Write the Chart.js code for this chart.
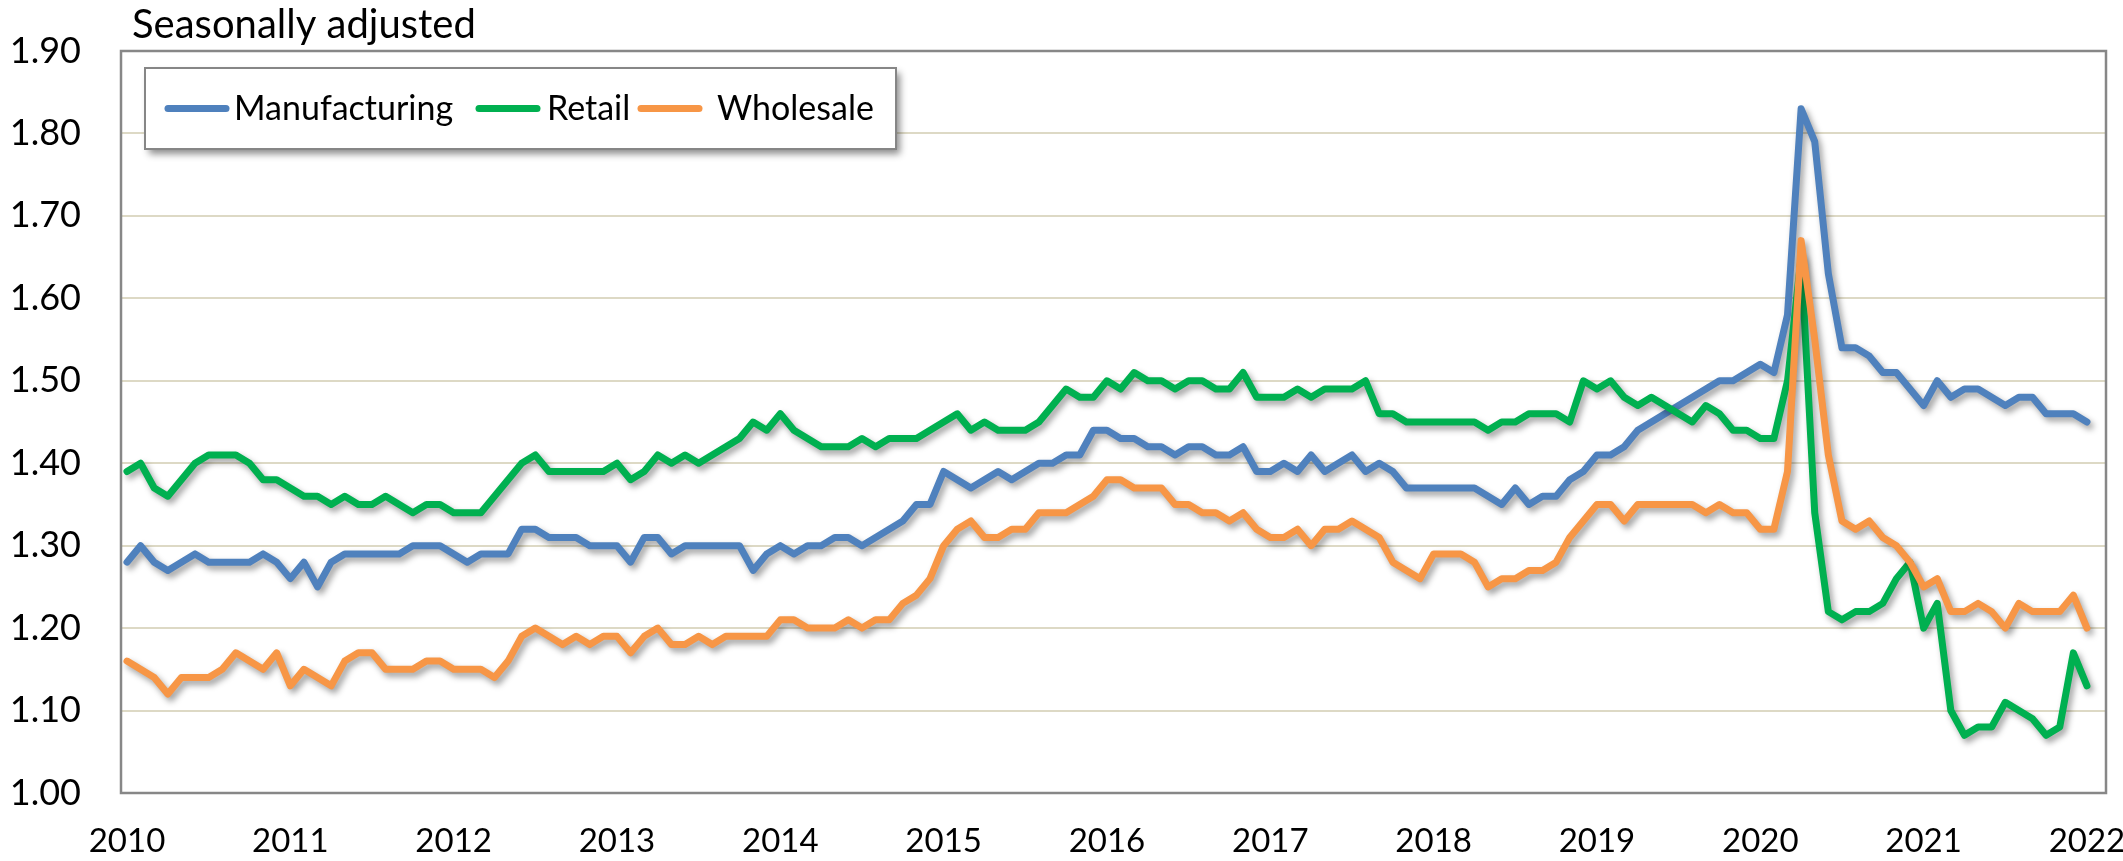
<!DOCTYPE html>
<html>
<head>
<meta charset="utf-8">
<title>Seasonally adjusted</title>
<script src="https://cdn.jsdelivr.net/npm/chart.js@4.4.1/dist/chart.umd.min.js"></script>
<style>
    html, body { margin: 0; padding: 0; background: #fff; }
    #chart { display: block; }
</style>
</head>
<body>
<canvas id="chart" width="2123" height="861"></canvas>
<script>
const chartTitle = "Seasonally adjusted";
const yearLabels = ["2010", "2011", "2012", "2013", "2014", "2015", "2016", "2017", "2018", "2019", "2020", "2021", "2022"];
const seriesNames = ["Manufacturing", "Retail", "Wholesale"];
const seriesColors = ["#4F81BD", "#00B050", "#F79646"];

// monthly values, Jan 2010 .. Jan 2022
const manufacturing = [
    1.28, 1.30, 1.28, 1.27, 1.28, 1.29, 1.28, 1.28, 1.28, 1.28, 1.29, 1.28,
    1.26, 1.28, 1.25, 1.28, 1.29, 1.29, 1.29, 1.29, 1.29, 1.30, 1.30, 1.30,
    1.29, 1.28, 1.29, 1.29, 1.29, 1.32, 1.32, 1.31, 1.31, 1.31, 1.30, 1.30,
    1.30, 1.28, 1.31, 1.31, 1.29, 1.30, 1.30, 1.30, 1.30, 1.30, 1.27, 1.29,
    1.30, 1.29, 1.30, 1.30, 1.31, 1.31, 1.30, 1.31, 1.32, 1.33, 1.35, 1.35,
    1.39, 1.38, 1.37, 1.38, 1.39, 1.38, 1.39, 1.40, 1.40, 1.41, 1.41, 1.44,
    1.44, 1.43, 1.43, 1.42, 1.42, 1.41, 1.42, 1.42, 1.41, 1.41, 1.42, 1.39,
    1.39, 1.40, 1.39, 1.41, 1.39, 1.40, 1.41, 1.39, 1.40, 1.39, 1.37, 1.37,
    1.37, 1.37, 1.37, 1.37, 1.36, 1.35, 1.37, 1.35, 1.36, 1.36, 1.38, 1.39,
    1.41, 1.41, 1.42, 1.44, 1.45, 1.46, 1.47, 1.48, 1.49, 1.50, 1.50, 1.51,
    1.52, 1.51, 1.58, 1.83, 1.79, 1.63, 1.54, 1.54, 1.53, 1.51, 1.51, 1.49,
    1.47, 1.50, 1.48, 1.49, 1.49, 1.48, 1.47, 1.48, 1.48, 1.46, 1.46, 1.46,
    1.45,
];
const retail = [
    1.39, 1.40, 1.37, 1.36, 1.38, 1.40, 1.41, 1.41, 1.41, 1.40, 1.38, 1.38,
    1.37, 1.36, 1.36, 1.35, 1.36, 1.35, 1.35, 1.36, 1.35, 1.34, 1.35, 1.35,
    1.34, 1.34, 1.34, 1.36, 1.38, 1.40, 1.41, 1.39, 1.39, 1.39, 1.39, 1.39,
    1.40, 1.38, 1.39, 1.41, 1.40, 1.41, 1.40, 1.41, 1.42, 1.43, 1.45, 1.44,
    1.46, 1.44, 1.43, 1.42, 1.42, 1.42, 1.43, 1.42, 1.43, 1.43, 1.43, 1.44,
    1.45, 1.46, 1.44, 1.45, 1.44, 1.44, 1.44, 1.45, 1.47, 1.49, 1.48, 1.48,
    1.50, 1.49, 1.51, 1.50, 1.50, 1.49, 1.50, 1.50, 1.49, 1.49, 1.51, 1.48,
    1.48, 1.48, 1.49, 1.48, 1.49, 1.49, 1.49, 1.50, 1.46, 1.46, 1.45, 1.45,
    1.45, 1.45, 1.45, 1.45, 1.44, 1.45, 1.45, 1.46, 1.46, 1.46, 1.45, 1.50,
    1.49, 1.50, 1.48, 1.47, 1.48, 1.47, 1.46, 1.45, 1.47, 1.46, 1.44, 1.44,
    1.43, 1.43, 1.50, 1.65, 1.34, 1.22, 1.21, 1.22, 1.22, 1.23, 1.26, 1.28,
    1.20, 1.23, 1.10, 1.07, 1.08, 1.08, 1.11, 1.10, 1.09, 1.07, 1.08, 1.17,
    1.13,
];
const wholesale = [
    1.16, 1.15, 1.14, 1.12, 1.14, 1.14, 1.14, 1.15, 1.17, 1.16, 1.15, 1.17,
    1.13, 1.15, 1.14, 1.13, 1.16, 1.17, 1.17, 1.15, 1.15, 1.15, 1.16, 1.16,
    1.15, 1.15, 1.15, 1.14, 1.16, 1.19, 1.20, 1.19, 1.18, 1.19, 1.18, 1.19,
    1.19, 1.17, 1.19, 1.20, 1.18, 1.18, 1.19, 1.18, 1.19, 1.19, 1.19, 1.19,
    1.21, 1.21, 1.20, 1.20, 1.20, 1.21, 1.20, 1.21, 1.21, 1.23, 1.24, 1.26,
    1.30, 1.32, 1.33, 1.31, 1.31, 1.32, 1.32, 1.34, 1.34, 1.34, 1.35, 1.36,
    1.38, 1.38, 1.37, 1.37, 1.37, 1.35, 1.35, 1.34, 1.34, 1.33, 1.34, 1.32,
    1.31, 1.31, 1.32, 1.30, 1.32, 1.32, 1.33, 1.32, 1.31, 1.28, 1.27, 1.26,
    1.29, 1.29, 1.29, 1.28, 1.25, 1.26, 1.26, 1.27, 1.27, 1.28, 1.31, 1.33,
    1.35, 1.35, 1.33, 1.35, 1.35, 1.35, 1.35, 1.35, 1.34, 1.35, 1.34, 1.34,
    1.32, 1.32, 1.39, 1.67, 1.55, 1.41, 1.33, 1.32, 1.33, 1.31, 1.30, 1.28,
    1.25, 1.26, 1.22, 1.22, 1.23, 1.22, 1.20, 1.23, 1.22, 1.22, 1.22, 1.24,
    1.20,
];

const seriesValues = [manufacturing, retail, wholesale];
const fontFamily = "Lato, 'Open Sans', sans-serif";

// Excel-like soft drop shadow under each line
const lineShadow = {
    id: "lineShadow",
    beforeDatasetDraw(chart) {
        const ctx = chart.ctx;
        ctx.save();
        ctx.shadowColor = "rgba(0, 0, 0, 0.38)";
        ctx.shadowBlur = 6;
        ctx.shadowOffsetX = 3;
        ctx.shadowOffsetY = 4;
    },
    afterDatasetDraw(chart) {
        chart.ctx.restore();
    },
};

// grey box round the plot area
const plotFrame = {
    id: "plotFrame",
    beforeDatasetsDraw(chart) {
        const { ctx, chartArea: a } = chart;
        ctx.save();
        ctx.strokeStyle = "#878787";
        ctx.lineWidth = 2.5;
        ctx.strokeRect(a.left, a.top, a.right - a.left, a.bottom - a.top);
        ctx.restore();
    },
};

// title text and the boxed legend inside the plot
const boxedLegend = {
    id: "boxedLegend",
    afterDraw(chart) {
        const ctx = chart.ctx;
        ctx.save();
        ctx.fillStyle = "#000";
        ctx.font = `40px ${fontFamily}`;
        ctx.textBaseline = "alphabetic";
        ctx.textAlign = "left";
        ctx.fillText(chartTitle, 132, 38);

        const box = { x: 145, y: 68, w: 751, h: 81 };
        ctx.shadowColor = "rgba(0, 0, 0, 0.45)";
        ctx.shadowBlur = 7;
        ctx.shadowOffsetX = 4;
        ctx.shadowOffsetY = 5;
        ctx.fillStyle = "#fff";
        ctx.fillRect(box.x, box.y, box.w, box.h);
        ctx.shadowColor = "transparent";
        ctx.strokeStyle = "#868686";
        ctx.lineWidth = 2;
        ctx.strokeRect(box.x, box.y, box.w, box.h);

        const sampleX = [168, 479, 641];
        const textX = [234, 547, 717];
        const midY = box.y + box.h / 2;
        ctx.font = `34px ${fontFamily}`;
        ctx.textBaseline = "middle";
        chart.data.datasets.forEach((ds, i) => {
            ctx.strokeStyle = ds.borderColor;
            ctx.lineWidth = 7;
            ctx.lineCap = "round";
            ctx.beginPath();
            ctx.moveTo(sampleX[i], midY);
            ctx.lineTo(sampleX[i] + 58, midY);
            ctx.stroke();
            ctx.fillStyle = "#000";
            ctx.fillText(ds.label, textX[i], midY + 1);
        });
        ctx.restore();
    },
};

const datasets = seriesNames.map((name, i) => ({
    label: name,
    data: seriesValues[i].map((v, m) => ({ x: m, y: v })),
    borderColor: seriesColors[i],
    backgroundColor: seriesColors[i],
    borderWidth: 7,
    borderJoinStyle: "round",
    borderCapStyle: "round",
    pointRadius: 0,
    tension: 0,
    order: seriesNames.length - i,
}));

new Chart(document.getElementById("chart"), {
    type: "line",
    data: { datasets: datasets },
    plugins: [lineShadow, plotFrame, boxedLegend],
    options: {
        responsive: false,
        animation: false,
        devicePixelRatio: 1,
        layout: {
            padding: { top: 51, right: 17, left: 0, bottom: 0 },
        },
        scales: {
            x: {
                type: "linear",
                min: -0.44,
                max: 145.4,
                grid: { display: false, drawTicks: false },
                border: { display: false },
                afterBuildTicks: (scale) => {
                    scale.ticks = yearLabels.map((_, i) => ({ value: i * 12 }));
                },
                afterFit: (scale) => {
                    scale.height = 68;
                    scale.paddingLeft = 0;
                    scale.paddingRight = 0;
                },
                ticks: {
                    autoSkip: false,
                    maxRotation: 0,
                    padding: 29,
                    color: "#000",
                    font: { family: fontFamily, size: 33 },
                    callback: (value, index) => yearLabels[index],
                },
            },
            y: {
                min: 1.0,
                max: 1.9,
                grid: { color: "#DDD9C5", lineWidth: 2, drawTicks: false },
                border: { display: false },
                afterFit: (scale) => {
                    scale.width = 121;
                    scale.paddingTop = 0;
                    scale.paddingBottom = 0;
                },
                ticks: {
                    stepSize: 0.1,
                    padding: 40,
                    color: "#000",
                    font: { family: fontFamily, size: 36 },
                    callback: (value) => value.toFixed(2),
                },
            },
        },
        plugins: {
            legend: { display: false },
            tooltip: { enabled: false },
            title: { display: false },
        },
    },
});
</script>
</body>
</html>
